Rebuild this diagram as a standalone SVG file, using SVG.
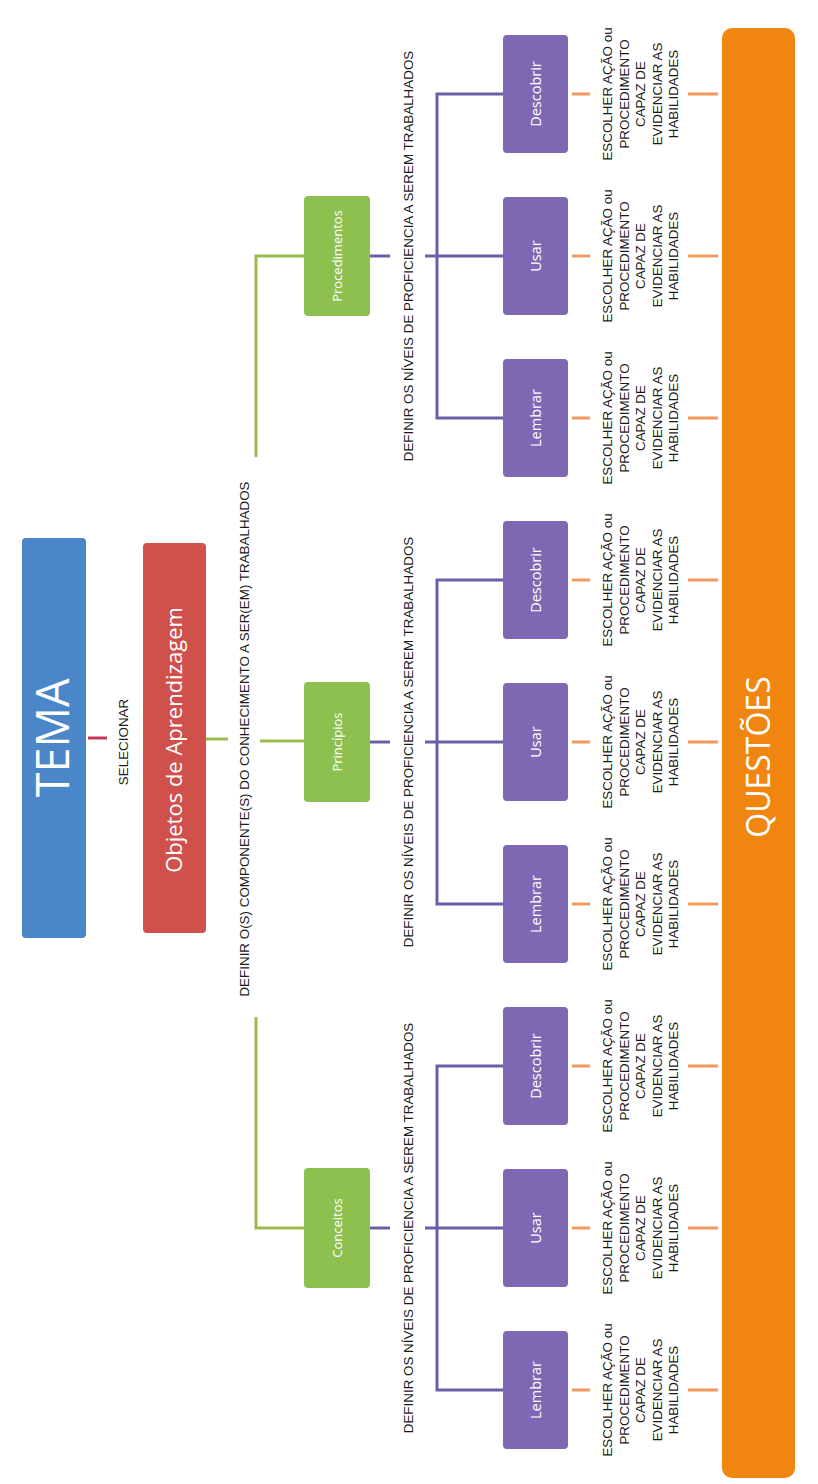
<svg xmlns="http://www.w3.org/2000/svg" width="818" height="1484" viewBox="0 0 818 1484">
<style>
.lbl{font-family:"Liberation Sans",Arial,sans-serif;font-size:13.4px;fill:#1a1a1a;text-anchor:middle}
.box{font-family:"Open Sans","Liberation Sans",sans-serif;fill:#ffffff;text-anchor:middle}
.cr{stroke:#c2395a;stroke-width:3;fill:none}
.cg{stroke:#9cbb4d;stroke-width:3;fill:none}
.cp{stroke:#6a5fa6;stroke-width:3;fill:none}
.co{stroke:#f29a5a;stroke-width:3;fill:none}
.green{fill:#8dc04f}
.purple{fill:#7e68b3}
</style>
<rect width="818" height="1484" fill="#ffffff"/>
<g transform="translate(0,1484) rotate(-90)">
<g id="connectors">
<line class="cr" x1="746" y1="88" x2="746" y2="107"/>
<line class="cg" x1="745" y1="206" x2="745" y2="228"/>
<line class="cg" x1="743" y1="260" x2="743" y2="304"/>
<polyline class="cg" points="256,304 256,256 467,256"/>
<polyline class="cg" points="1027,256 1228,256 1228,304"/>
<g id="conn-p1">
<line class="cp" x1="256" y1="370" x2="256" y2="390"/>
<line class="cp" x1="256" y1="425" x2="256" y2="503"/>
<polyline class="cp" points="94,503 94,437 418,437 418,503"/>
</g>
<g id="conn-p2">
<line class="cp" x1="742" y1="370" x2="742" y2="390"/>
<line class="cp" x1="742" y1="425" x2="742" y2="503"/>
<polyline class="cp" points="580,503 580,437 904,437 904,503"/>
</g>
<g id="conn-p3">
<line class="cp" x1="1228" y1="370" x2="1228" y2="390"/>
<line class="cp" x1="1228" y1="425" x2="1228" y2="503"/>
<polyline class="cp" points="1066,503 1066,437 1390,437 1390,503"/>
</g>
<g id="conn-o">
<path class="co" d="M94 572V590M94 688V718M256 572V590M256 688V718M418 572V590M418 688V718M580 572V590M580 688V718M742 572V590M742 688V718M904 572V590M904 688V718M1066 572V590M1066 688V718M1228 572V590M1228 688V718M1390 572V590M1390 688V718"/>
</g>
<text class="lbl" x="742" y="128" font-size="12.5">SELECIONAR</text>
<text class="lbl" x="745" y="249">DEFINIR O(S) COMPONENTE(S) DO CONHECIMENTO A SER(EM) TRABALHADOS</text>
<text class="lbl" x="256" y="413">DEFINIR OS NÍVEIS DE PROFICIENCIA A SEREM TRABALHADOS</text>
<text class="lbl" x="742" y="413">DEFINIR OS NÍVEIS DE PROFICIENCIA A SEREM TRABALHADOS</text>
<text class="lbl" x="1228" y="413">DEFINIR OS NÍVEIS DE PROFICIENCIA A SEREM TRABALHADOS</text>
</g>
<g id="tema">
<rect x="546" y="22" width="400" height="64" rx="4" fill="#4a86c8"/>
<text class="box" x="746" y="69" font-size="45">TEMA</text>
</g>
<g id="objetos">
<rect x="551" y="143" width="390" height="63" rx="4" fill="#d0504c"/>
<text class="box" x="744" y="182" font-size="22">Objetos de Aprendizagem</text>
</g>
<g id="conceitos">
<rect class="green" x="196" y="304" width="120" height="66" rx="4"/>
<text class="box" x="256" y="342" font-size="13">Conceitos</text>
</g>
<g id="principios">
<rect class="green" x="682" y="304" width="120" height="66" rx="4"/>
<text class="box" x="742" y="342" font-size="13">Princípios</text>
</g>
<g id="procedimentos">
<rect class="green" x="1168" y="304" width="120" height="66" rx="4"/>
<text class="box" x="1228" y="342" font-size="13">Procedimentos</text>
</g>
<g id="c-lembrar"><rect class="purple" x="35" y="503" width="118" height="65" rx="4"/><text class="box" x="94" y="541" font-size="14.5">Lembrar</text></g>
<g id="c-usar"><rect class="purple" x="197" y="503" width="118" height="65" rx="4"/><text class="box" x="256" y="541" font-size="14.5">Usar</text></g>
<g id="c-descobrir"><rect class="purple" x="359" y="503" width="118" height="65" rx="4"/><text class="box" x="418" y="541" font-size="14.5">Descobrir</text></g>
<g id="p-lembrar"><rect class="purple" x="521" y="503" width="118" height="65" rx="4"/><text class="box" x="580" y="541" font-size="14.5">Lembrar</text></g>
<g id="p-usar"><rect class="purple" x="683" y="503" width="118" height="65" rx="4"/><text class="box" x="742" y="541" font-size="14.5">Usar</text></g>
<g id="p-descobrir"><rect class="purple" x="845" y="503" width="118" height="65" rx="4"/><text class="box" x="904" y="541" font-size="14.5">Descobrir</text></g>
<g id="r-lembrar"><rect class="purple" x="1007" y="503" width="118" height="65" rx="4"/><text class="box" x="1066" y="541" font-size="14.5">Lembrar</text></g>
<g id="r-usar"><rect class="purple" x="1169" y="503" width="118" height="65" rx="4"/><text class="box" x="1228" y="541" font-size="14.5">Usar</text></g>
<g id="r-descobrir"><rect class="purple" x="1331" y="503" width="118" height="65" rx="4"/><text class="box" x="1390" y="541" font-size="14.5">Descobrir</text></g>
<g id="acoes" class="lbl">
<text x="94" y="612">ESCOLHER AÇÃO ou<tspan x="94" y="628.5">PROCEDIMENTO</tspan><tspan x="94" y="645">CAPAZ DE</tspan><tspan x="94" y="661.5">EVIDENCIAR AS</tspan><tspan x="94" y="678">HABILIDADES</tspan></text>
<text x="256" y="612">ESCOLHER AÇÃO ou<tspan x="256" y="628.5">PROCEDIMENTO</tspan><tspan x="256" y="645">CAPAZ DE</tspan><tspan x="256" y="661.5">EVIDENCIAR AS</tspan><tspan x="256" y="678">HABILIDADES</tspan></text>
<text x="418" y="612">ESCOLHER AÇÃO ou<tspan x="418" y="628.5">PROCEDIMENTO</tspan><tspan x="418" y="645">CAPAZ DE</tspan><tspan x="418" y="661.5">EVIDENCIAR AS</tspan><tspan x="418" y="678">HABILIDADES</tspan></text>
<text x="580" y="612">ESCOLHER AÇÃO ou<tspan x="580" y="628.5">PROCEDIMENTO</tspan><tspan x="580" y="645">CAPAZ DE</tspan><tspan x="580" y="661.5">EVIDENCIAR AS</tspan><tspan x="580" y="678">HABILIDADES</tspan></text>
<text x="742" y="612">ESCOLHER AÇÃO ou<tspan x="742" y="628.5">PROCEDIMENTO</tspan><tspan x="742" y="645">CAPAZ DE</tspan><tspan x="742" y="661.5">EVIDENCIAR AS</tspan><tspan x="742" y="678">HABILIDADES</tspan></text>
<text x="904" y="612">ESCOLHER AÇÃO ou<tspan x="904" y="628.5">PROCEDIMENTO</tspan><tspan x="904" y="645">CAPAZ DE</tspan><tspan x="904" y="661.5">EVIDENCIAR AS</tspan><tspan x="904" y="678">HABILIDADES</tspan></text>
<text x="1066" y="612">ESCOLHER AÇÃO ou<tspan x="1066" y="628.5">PROCEDIMENTO</tspan><tspan x="1066" y="645">CAPAZ DE</tspan><tspan x="1066" y="661.5">EVIDENCIAR AS</tspan><tspan x="1066" y="678">HABILIDADES</tspan></text>
<text x="1228" y="612">ESCOLHER AÇÃO ou<tspan x="1228" y="628.5">PROCEDIMENTO</tspan><tspan x="1228" y="645">CAPAZ DE</tspan><tspan x="1228" y="661.5">EVIDENCIAR AS</tspan><tspan x="1228" y="678">HABILIDADES</tspan></text>
<text x="1390" y="612">ESCOLHER AÇÃO ou<tspan x="1390" y="628.5">PROCEDIMENTO</tspan><tspan x="1390" y="645">CAPAZ DE</tspan><tspan x="1390" y="661.5">EVIDENCIAR AS</tspan><tspan x="1390" y="678">HABILIDADES</tspan></text>
</g>
<g id="questoes">
<rect x="6" y="722" width="1450" height="73" rx="10" fill="#f0850f"/>
<text class="box" x="727" y="770" font-size="32">QUESTÕES</text>
</g>
</g>
</svg>
